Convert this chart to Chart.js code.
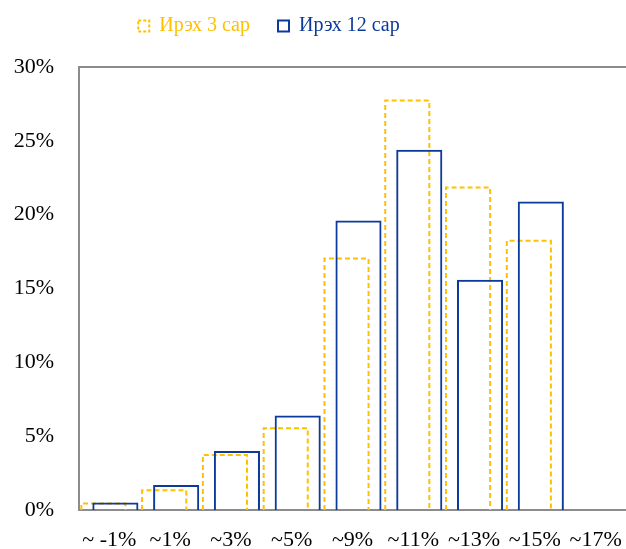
<!DOCTYPE html>
<html>
<head>
<meta charset="utf-8">
<script src="https://cdn.jsdelivr.net/npm/chart.js@4.4.1/dist/chart.umd.min.js"></script>
<style>
  html, body { margin: 0; padding: 0; background: #fff; }
  #wrap { width: 626px; height: 549px; }
</style>
</head>
<body>
<div id="wrap"><canvas id="canvas1" width="626" height="549"></canvas></div>
<script>
var categories = ["~ -1%", "~1%", "~3%", "~5%", "~9%", "~11%", "~13%", "~15%", "~17%"];
var seriesNames = ["Ирэх 3 сар", "Ирэх 12 сар"];
var months3 = [0.5, 1.4, 3.8, 5.6, 17.1, 27.8, 21.9, 18.3, 0];
var months12 = [0.5, 1.7, 4.0, 6.4, 19.6, 24.4, 15.6, 20.9, 0];

var orange = "#FFC000";
var blue = "#0A3A9C";
var axisGray = "#8C8C8C";
var serif = "'Liberation Serif', 'Times New Roman', serif";

// bar elements can't be dashed, so the first series outline is stroked here
var dashedBars = {
  id: 'dashedBars',
  beforeDatasetsDraw: function (chart) {
    var meta = chart.getDatasetMeta(0);
    var ctx = chart.ctx;
    ctx.save();
    ctx.strokeStyle = orange;
    ctx.lineWidth = 2;
    ctx.setLineDash([5, 3]);
    meta.data.forEach(function (bar, i) {
      if (!months3[i]) return;
      var p = bar.getProps(['x', 'y', 'base', 'width'], true);
      var l = p.x - p.width / 2 + 1, r = p.x + p.width / 2 - 1, t = p.y + 1;
      ctx.beginPath();
      ctx.moveTo(l, p.base);
      ctx.lineTo(l, t);
      ctx.lineTo(r, t);
      ctx.lineTo(r, p.base);
      ctx.stroke();
    });
    ctx.restore();
  }
};

// legend in the original sits left of centre
var legendShift = {
  id: 'legendShift',
  afterLayout: function (chart) {
    chart.legend.right -= 88;
  }
};

new Chart(document.getElementById("canvas1"), {
  type: 'bar',
  data: {
    labels: categories,
    datasets: [{
      label: seriesNames[0],
      data: months3,
      backgroundColor: "rgba(0,0,0,0)",
      borderColor: orange,
      borderWidth: 0
    }, {
      label: seriesNames[1],
      data: months12,
      backgroundColor: "rgba(0,0,0,0)",
      borderColor: blue,
      borderWidth: 2
    }]
  },
  plugins: [dashedBars, legendShift],
  options: {
    responsive: false,
    animation: false,
    layout: { padding: { left: 0, right: 0, top: -12, bottom: 0 } },
    datasets: {
      bar: { categoryPercentage: 0.394, barPercentage: 3.85 }
    },
    plugins: {
      tooltip: { enabled: false },
      legend: {
        position: 'top',
        labels: {
          font: { family: serif, size: 20 },
          boxWidth: 11,
          boxHeight: 11,
          padding: 28,
          generateLabels: function (chart) {
            var items = Chart.defaults.plugins.legend.labels.generateLabels(chart);
            items.forEach(function (it, i) {
              it.fontColor = i === 0 ? orange : blue;
              it.strokeStyle = i === 0 ? orange : blue;
              it.lineWidth = 2;
              it.lineDash = i === 0 ? [3, 2] : [];
            });
            return items;
          }
        }
      }
    },
    scales: {
      x: {
        grid: { display: false, drawTicks: false },
        border: { display: true, color: axisGray, width: 2 },
        ticks: { color: "#000", font: { family: serif, size: 22 }, padding: 17, maxRotation: 0, autoSkip: false },
        afterFit: function (scale) {
          scale.height = 39;
          scale.paddingLeft = 0;
          scale.paddingRight = 0;
        }
      },
      xTop: {
        type: 'category',
        position: 'top',
        grid: { display: false, drawTicks: false },
        border: { display: true, color: axisGray, width: 2 },
        ticks: { display: false },
        afterFit: function (scale) {
          scale.height = 21;
          scale.paddingLeft = 0;
          scale.paddingRight = 0;
        }
      },
      y: {
        min: 0,
        max: 30,
        grid: { display: false, drawTicks: false },
        border: { display: true, color: axisGray, width: 2 },
        ticks: {
          stepSize: 5,
          color: "#000",
          font: { family: serif, size: 22 },
          padding: 25,
          callback: function (v) { return v + "%"; }
        },
        afterFit: function (scale) { scale.width = 79; }
      }
    }
  }
});
</script>
</body>
</html>
